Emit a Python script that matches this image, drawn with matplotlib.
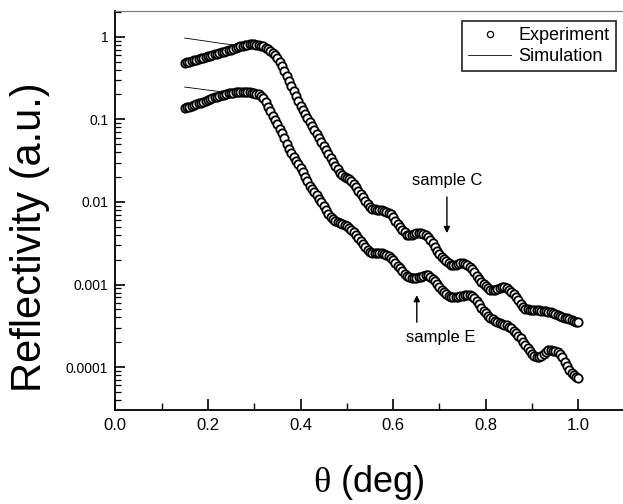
import numpy as np
import matplotlib
matplotlib.use("Agg")
import matplotlib.pyplot as plt
from matplotlib.ticker import LogLocator, MultipleLocator, FixedLocator, FixedFormatter

plt.rcParams['font.family'] = ['Liberation Sans', 'DejaVu Sans']
plt.rcParams['mathtext.fontset'] = 'custom'
plt.rcParams['mathtext.it'] = 'Liberation Serif'
plt.rcParams['mathtext.rm'] = 'Liberation Serif'

# ---- data ----
theta_exp = np.linspace(0.15, 1.0, 171)   # measured angles, 0.005 deg steps
theta_sim = np.linspace(0.15, 1.0, 86)    # simulated angles, 0.01 deg steps

exp_C = [
    0.481, 0.490, 0.499, 0.508, 0.518, 0.527, 0.537, 0.548, 0.558, 0.569,
    0.579, 0.590, 0.601, 0.612, 0.624, 0.635, 0.647, 0.659, 0.671, 0.684,
    0.697, 0.711, 0.724, 0.745, 0.764, 0.780, 0.793, 0.802, 0.807, 0.809,
    0.807, 0.802, 0.794, 0.783, 0.767, 0.741, 0.708, 0.673, 0.638, 0.596,
    0.547, 0.495, 0.437, 0.385, 0.335, 0.292, 0.254, 0.221, 0.193, 0.168,
    0.146, 0.130, 0.116, 0.1035, 0.0923, 0.0822, 0.0741, 0.0661, 0.0589, 0.0531,
    0.0479, 0.0427, 0.0380, 0.0343, 0.0305, 0.0275, 0.0248, 0.0226, 0.0211, 0.0202,
    0.0195, 0.0188, 0.0178, 0.0164, 0.0150, 0.0136, 0.0124, 0.01135, 0.01035, 0.00944,
    0.00871, 0.00832, 0.00813, 0.00804, 0.00800, 0.00794, 0.00776, 0.00759, 0.00741, 0.00716,
    0.00661, 0.00596, 0.00543, 0.00501, 0.00462, 0.00427, 0.00403, 0.00394, 0.00398, 0.00407,
    0.00417, 0.00422, 0.00420, 0.00412, 0.00398, 0.00376, 0.00347, 0.00316, 0.00285, 0.00257,
    0.00234, 0.00216, 0.00202, 0.00191, 0.00180, 0.00174, 0.00172, 0.00174, 0.00178, 0.00181,
    0.00181, 0.00178, 0.00172, 0.00164, 0.00155, 0.00141, 0.00127, 0.00116, 0.00108, 0.00102,
    0.000966, 0.000912, 0.000871, 0.000861, 0.000871, 0.000891, 0.000912, 0.000927, 0.000923, 0.000902,
    0.000861, 0.000813, 0.000767, 0.000708, 0.000646, 0.000582, 0.000537, 0.000513, 0.000501, 0.000495,
    0.000495, 0.000495, 0.000492, 0.000490, 0.000484, 0.000479, 0.000473, 0.000468, 0.000462, 0.000452,
    0.000437, 0.000427, 0.000417, 0.000407, 0.000398, 0.000389, 0.000380, 0.000372, 0.000363, 0.000355,
    0.000351,
]

exp_E = [
    0.137, 0.140, 0.143, 0.146, 0.149, 0.152, 0.156, 0.159, 0.163, 0.167,
    0.171, 0.176, 0.180, 0.184, 0.187, 0.191, 0.195, 0.199, 0.202, 0.206,
    0.208, 0.210, 0.212, 0.213, 0.214, 0.215, 0.215, 0.214, 0.213, 0.211,
    0.208, 0.204, 0.200, 0.193, 0.180, 0.160, 0.141, 0.125, 0.111, 0.0979,
    0.0869, 0.0769, 0.0682, 0.0589, 0.0506, 0.0437, 0.0389, 0.0347, 0.0313, 0.0285,
    0.0260, 0.0229, 0.0202, 0.0178, 0.0157, 0.0143, 0.0132, 0.0120, 0.0110, 0.00989,
    0.00891, 0.00794, 0.00716, 0.00653, 0.00617, 0.00592, 0.00575, 0.00556, 0.00540, 0.00525,
    0.00507, 0.00490, 0.00462, 0.00427, 0.00394, 0.00363, 0.00335, 0.00309, 0.00282, 0.00260,
    0.00246, 0.00240, 0.00239, 0.00240, 0.00241, 0.00240, 0.00234, 0.00226, 0.00219, 0.00211,
    0.00197, 0.00182, 0.00170, 0.00158, 0.00145, 0.00133, 0.00127, 0.00123, 0.00120, 0.00120,
    0.00120, 0.00122, 0.00125, 0.00127, 0.00129, 0.00129, 0.00124, 0.00117, 0.00110, 0.00101,
    0.000933, 0.000861, 0.000804, 0.000759, 0.000733, 0.000716, 0.000708, 0.000705, 0.000708, 0.000719,
    0.000729, 0.000741, 0.000745, 0.000741, 0.000724, 0.000692, 0.000638, 0.000582, 0.000525, 0.000479,
    0.000447, 0.000422, 0.000398, 0.000380, 0.000363, 0.000351, 0.000343, 0.000335, 0.000327, 0.000320,
    0.000309, 0.000295, 0.000275, 0.000257, 0.000240, 0.000224, 0.000204, 0.000186, 0.000170, 0.000158,
    0.000146, 0.000138, 0.000133, 0.000132, 0.000136, 0.000145, 0.000153, 0.000160, 0.000161, 0.000158,
    0.000155, 0.000151, 0.000145, 0.000133, 0.000117, 0.000104, 0.0000933, 0.0000861, 0.0000804, 0.0000759,
    0.0000733,
]

sim_C = [
    0.964, 0.946, 0.929, 0.912, 0.895, 0.879, 0.861, 0.845, 0.830, 0.815,
    0.804, 0.798, 0.798, 0.800, 0.804, 0.807, 0.794, 0.767, 0.708, 0.638,
    0.547, 0.437, 0.335, 0.254, 0.193, 0.146, 0.116, 0.0923, 0.0741, 0.0589,
    0.0479, 0.0380, 0.0305, 0.0248, 0.0211, 0.0195, 0.0178, 0.0150, 0.0124, 0.01035,
    0.00871, 0.00813, 0.00800, 0.00776, 0.00741, 0.00661, 0.00543, 0.00462, 0.00403, 0.00398,
    0.00417, 0.00420, 0.00398, 0.00347, 0.00285, 0.00234, 0.00202, 0.00180, 0.00172, 0.00178,
    0.00181, 0.00172, 0.00155, 0.00127, 0.00108, 0.000966, 0.000871, 0.000871, 0.000912, 0.000923,
    0.000861, 0.000767, 0.000646, 0.000537, 0.000501, 0.000495, 0.000492, 0.000484, 0.000473, 0.000462,
    0.000437, 0.000417, 0.000398, 0.000380, 0.000363, 0.000351,
]

sim_E = [
    0.246, 0.242, 0.238, 0.234, 0.230, 0.226, 0.223, 0.219, 0.216, 0.215,
    0.214, 0.215, 0.215, 0.215, 0.214, 0.208, 0.200, 0.180, 0.141, 0.111,
    0.0869, 0.0682, 0.0506, 0.0389, 0.0313, 0.0260, 0.0202, 0.0157, 0.0132, 0.0110,
    0.00891, 0.00716, 0.00617, 0.00575, 0.00540, 0.00507, 0.00462, 0.00394, 0.00335, 0.00282,
    0.00246, 0.00239, 0.00241, 0.00234, 0.00219, 0.00197, 0.00170, 0.00145, 0.00127, 0.00120,
    0.00120, 0.00125, 0.00129, 0.00124, 0.00110, 0.000933, 0.000804, 0.000733, 0.000708, 0.000708,
    0.000729, 0.000745, 0.000724, 0.000638, 0.000525, 0.000447, 0.000398, 0.000363, 0.000343, 0.000327,
    0.000309, 0.000275, 0.000240, 0.000204, 0.000170, 0.000146, 0.000133, 0.000136, 0.000153, 0.000161,
    0.000155, 0.000145, 0.000117, 0.0000933, 0.0000804, 0.0000733,
]

xtick_vals = [0.0, 0.2, 0.4, 0.6, 0.8, 1.0]
xtick_labels = ["0.0", "0.2", "0.4", "0.6", "0.8", "1.0"]
ytick_vals = [1, 0.1, 0.01, 0.001, 0.0001]
ytick_labels = ["1", "0.1", "0.01", "0.001", "0.0001"]

# ---- figure ----
W, H = 623, 504
fig = plt.figure(figsize=(W / 100, H / 100), dpi=100)
ax = fig.add_axes([115.2 / W, 94 / H, 509.6 / W, 399 / H])

ax.plot(theta_sim, sim_C, color='black', lw=0.6, zorder=2)
ax.plot(theta_sim, sim_E, color='black', lw=0.6, zorder=2, label='Simulation')
mk = dict(linestyle='none', marker='o', markersize=6.0, markerfacecolor='white',
          markeredgecolor='black', markeredgewidth=1.3, zorder=3)
ax.plot(theta_exp, exp_C, **mk)
ax.plot(theta_exp, exp_E, label='Experiment', **mk)

ax.set_yscale('log')
ax.set_xlim(0, 1.1)
ax.set_ylim(3.03e-5, 2.05)

ax.xaxis.set_major_locator(FixedLocator(xtick_vals))
ax.xaxis.set_major_formatter(FixedFormatter(xtick_labels))
ax.xaxis.set_minor_locator(MultipleLocator(0.1))
ax.yaxis.set_major_locator(FixedLocator(ytick_vals))
ax.yaxis.set_major_formatter(FixedFormatter(ytick_labels))
ax.yaxis.set_minor_locator(LogLocator(base=10, subs=np.arange(2, 10), numticks=20))
ax.yaxis.set_minor_formatter(plt.NullFormatter())

ax.tick_params(axis='both', which='both', direction='in', color='black')
ax.tick_params(axis='x', which='major', length=8, width=1.2, labelsize=12, pad=6)
ax.tick_params(axis='x', which='minor', length=5, width=1.0)
ax.tick_params(axis='y', which='major', length=7, width=1.2, labelsize=10, pad=5)
ax.tick_params(axis='y', which='minor', length=4, width=0.9)
ax.tick_params(top=False, right=False, which='both')

for s in ('left', 'bottom'):
    ax.spines[s].set_linewidth(1.3)
ax.spines['top'].set_color('#777777')
ax.spines['top'].set_linewidth(0.8)
ax.spines['right'].set_visible(False)

# legend
handles, labels = ax.get_legend_handles_labels()
order = [labels.index('Experiment'), labels.index('Simulation')]
leg = ax.legend([handles[i] for i in order], [labels[i] for i in order],
                loc='upper right', bbox_to_anchor=(616 / W, 1 - 21 / H),
                bbox_transform=fig.transFigure, borderaxespad=0, fontsize=13,
                frameon=True, fancybox=False, edgecolor='black', handlelength=2.4,
                handletextpad=0.4, borderpad=0.35, labelspacing=0.2, markerscale=0.75)
leg.get_frame().set_linewidth(1.3)
leg.legend_handles[0].set_markeredgewidth(0.9)

# annotations
ax.text(0.716, 0.0184, "sample C", ha='center', va='center', fontsize=12)
ax.annotate("", xy=(0.716, 0.0042), xytext=(0.716, 0.0115),
            arrowprops=dict(arrowstyle='-|>', color='black', lw=1.0, mutation_scale=9,
                            shrinkA=0, shrinkB=0))
ax.text(0.703, 0.000231, "sample E", ha='center', va='center', fontsize=12)
ax.annotate("", xy=(0.651, 0.000746), xytext=(0.651, 0.00035),
            arrowprops=dict(arrowstyle='-|>', color='black', lw=1.0, mutation_scale=9,
                            shrinkA=0, shrinkB=0))

# axis labels
fig.text(30 / W, 1 - 237 / H, "Reflectivity (a.u.)", rotation=90, ha='center',
         va='center', fontsize=30)
fig.text(369 / W, 1 - 482 / H, r"$\theta$ (deg)", ha='center', va='center', fontsize=26)

fig.savefig("out.png", dpi=100)
